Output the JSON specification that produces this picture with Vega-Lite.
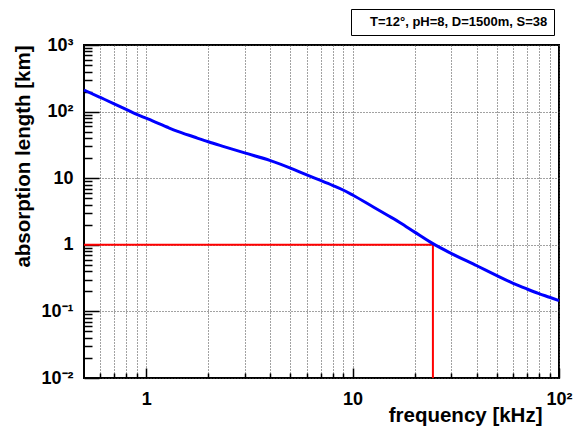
{
  "$schema": "https://vega.github.io/schema/vega-lite/v6.json",
  "autosize": "none",
  "width": 475,
  "height": 333,
  "padding": {"left": 84, "top": 45, "right": 16, "bottom": 49},
  "background": "white",
  "config": {
    "font": "Liberation Sans",
    "view": {"stroke": "black", "strokeWidth": 2},
    "axis": {"domain": false, "labelFont": "Liberation Sans", "titleFont": "Liberation Sans", "labelFontWeight": "bold", "titleFontWeight": "bold", "labelColor": "black", "titleColor": "black", "tickColor": "black", "labelOverlap": false, "labelFlush": false, "labelBound": false}
  },
  "encoding": {
    "x": {
      "field": "f", "type": "quantitative",
      "scale": {"type": "log", "domain": [0.5, 100], "nice": false},
      "axis": {
        "title": "frequency [kHz]",
        "titleFontSize": 20.5,
        "titleAnchor": "start",
        "titleX": 458, "titleY": 43, "titleAlign": "right", "titleBaseline": "alphabetic",
        "values": [0.6,0.7,0.8,0.9,1,2,3,4,5,6,7,8,9,10,20,30,40,50,60,70,80,90,100],
        "labelExpr": "datum.value == 1 ? '1' : datum.value == 10 ? '10' : datum.value == 100 ? '10²' : ''",
        "labelFontSize": 18,
        "labelPadding": 22,
        "labelBaseline": "top",
        "tickSize": {"condition": {"test": "abs(log(datum.value)/LN10 - round(log(datum.value)/LN10)) < 0.001", "value": -10}, "value": -5},
        "tickWidth": 1.5,
        "grid": true,
        "gridColor": "#444",
        "gridDash": [1, 2],
        "gridWidth": 1
      }
    },
    "y": {
      "field": "L", "type": "quantitative",
      "scale": {"type": "log", "domain": [0.01, 1000], "nice": false},
      "axis": {
        "title": "absorption length [km]",
        "titleFontSize": 20.5,
        "titleAnchor": "start",
        "titleX": -55, "titleY": 0, "titleAlign": "right", "titleAngle": -90, "titleBaseline": "alphabetic",
        "values": [0.01,0.02,0.03,0.04,0.05,0.06,0.07,0.08,0.09,0.1,0.2,0.3,0.4,0.5,0.6,0.7,0.8,0.9,1,2,3,4,5,6,7,8,9,10,20,30,40,50,60,70,80,90,100,200,300,400,500,600,700,800,900,1000],
        "labelExpr": "datum.value == 1000 ? '10³' : datum.value == 100 ? '10²' : datum.value == 10 ? '10' : datum.value == 1 ? '1' : datum.value == 0.1 ? '10⁻¹' : datum.value == 0.01 ? '10⁻²' : ''",
        "labelFontSize": 18,
        "labelPadding": 26,
        "tickSize": {"condition": {"test": "abs(log(datum.value)/LN10 - round(log(datum.value)/LN10)) < 0.001", "value": -15}, "value": -8},
        "tickWidth": 1.5,
        "grid": true,
        "gridColor": "#444",
        "gridDash": [1, 2],
        "gridWidth": 1,
        "gridOpacity": {"condition": {"test": "abs(log(datum.value)/LN10 - round(log(datum.value)/LN10)) < 0.001", "value": 1}, "value": 0}
      }
    }
  },
  "layer": [
    {
      "data": {"values": [
        {"f": 0.5, "f2": 24.5, "L": 1, "L2": 1},
        {"f": 24.5, "f2": 24.5, "L": 0.01, "L2": 1}
      ]},
      "mark": {"type": "rule", "color": "#ff0000", "strokeWidth": 2},
      "encoding": {
        "x2": {"field": "f2"},
        "y2": {"field": "L2"}
      }
    },
    {
      "data": {"values": [
        {"f": 0.5, "L": 211, "series": "T=12°, pH=8, D=1500m, S=38"},
        {"f": 0.6, "L": 163, "series": "T=12°, pH=8, D=1500m, S=38"},
        {"f": 0.7, "L": 131, "series": "T=12°, pH=8, D=1500m, S=38"},
        {"f": 0.8, "L": 108, "series": "T=12°, pH=8, D=1500m, S=38"},
        {"f": 0.9, "L": 91, "series": "T=12°, pH=8, D=1500m, S=38"},
        {"f": 1.0, "L": 79.5, "series": "T=12°, pH=8, D=1500m, S=38"},
        {"f": 1.26, "L": 58.7, "series": "T=12°, pH=8, D=1500m, S=38"},
        {"f": 1.41, "L": 51, "series": "T=12°, pH=8, D=1500m, S=38"},
        {"f": 1.71, "L": 41.5, "series": "T=12°, pH=8, D=1500m, S=38"},
        {"f": 2, "L": 35.2, "series": "T=12°, pH=8, D=1500m, S=38"},
        {"f": 2.38, "L": 29.8, "series": "T=12°, pH=8, D=1500m, S=38"},
        {"f": 3, "L": 24, "series": "T=12°, pH=8, D=1500m, S=38"},
        {"f": 4, "L": 18.4, "series": "T=12°, pH=8, D=1500m, S=38"},
        {"f": 5, "L": 14.2, "series": "T=12°, pH=8, D=1500m, S=38"},
        {"f": 6, "L": 11.2, "series": "T=12°, pH=8, D=1500m, S=38"},
        {"f": 7, "L": 9.25, "series": "T=12°, pH=8, D=1500m, S=38"},
        {"f": 8, "L": 7.8, "series": "T=12°, pH=8, D=1500m, S=38"},
        {"f": 9, "L": 6.65, "series": "T=12°, pH=8, D=1500m, S=38"},
        {"f": 10, "L": 5.6, "series": "T=12°, pH=8, D=1500m, S=38"},
        {"f": 12.6, "L": 3.7, "series": "T=12°, pH=8, D=1500m, S=38"},
        {"f": 14.7, "L": 2.8, "series": "T=12°, pH=8, D=1500m, S=38"},
        {"f": 17, "L": 2.15, "series": "T=12°, pH=8, D=1500m, S=38"},
        {"f": 20, "L": 1.55, "series": "T=12°, pH=8, D=1500m, S=38"},
        {"f": 24.5, "L": 1.04, "series": "T=12°, pH=8, D=1500m, S=38"},
        {"f": 30, "L": 0.745, "series": "T=12°, pH=8, D=1500m, S=38"},
        {"f": 40, "L": 0.485, "series": "T=12°, pH=8, D=1500m, S=38"},
        {"f": 50, "L": 0.345, "series": "T=12°, pH=8, D=1500m, S=38"},
        {"f": 60, "L": 0.264, "series": "T=12°, pH=8, D=1500m, S=38"},
        {"f": 70, "L": 0.217, "series": "T=12°, pH=8, D=1500m, S=38"},
        {"f": 80, "L": 0.185, "series": "T=12°, pH=8, D=1500m, S=38"},
        {"f": 90, "L": 0.163, "series": "T=12°, pH=8, D=1500m, S=38"},
        {"f": 100, "L": 0.145, "series": "T=12°, pH=8, D=1500m, S=38"}
      ]},
      "mark": {"type": "line", "strokeWidth": 3, "interpolate": "monotone"},
      "encoding": {
        "color": {
          "field": "series", "type": "nominal",
          "scale": {"range": ["#0000ff"]},
          "legend": {
            "title": null,
            "orient": "none",
            "legendX": 267,
            "legendY": -36,
            "strokeColor": "black",
            "fillColor": "white",
            "padding": 6,
            "symbolSize": 0,
            "symbolStrokeWidth": 0,
            "symbolOpacity": 0,
            "labelOffset": 0,
            "labelFont": "Liberation Sans",
            "labelFontSize": 13,
            "labelFontWeight": "bold",
            "labelColor": "black",
            "labelLimit": 400
          }
        }
      }
    }
  ]
}
